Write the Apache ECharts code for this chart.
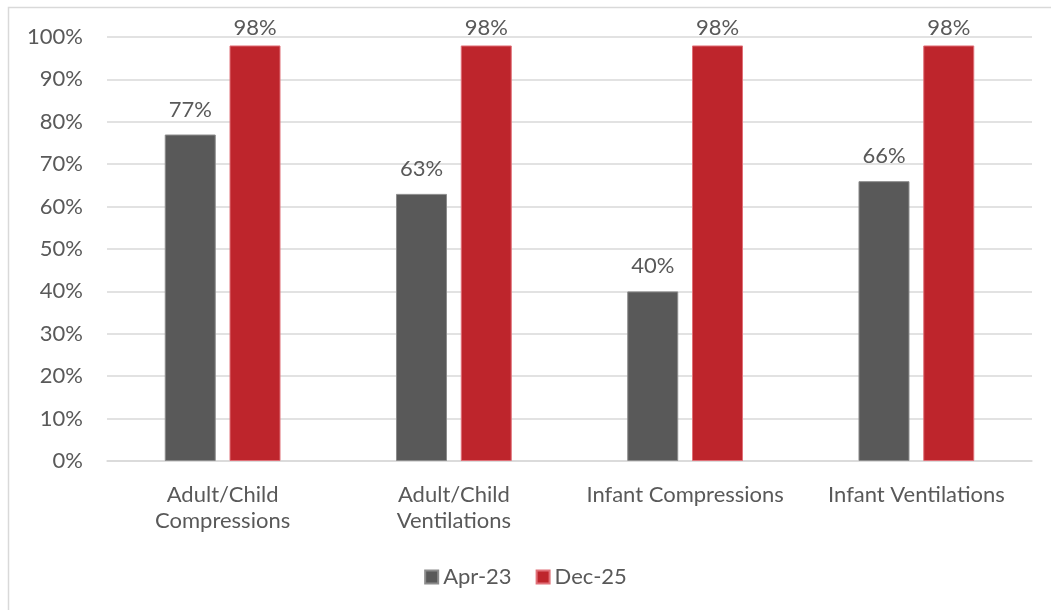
<!DOCTYPE html>
<html>
<head>
<meta charset="utf-8">
<script src="https://cdn.jsdelivr.net/npm/echarts@6/dist/echarts.min.js"></script>
<style>
html,body{margin:0;padding:0;background:#fff;}
#c{width:1051px;height:610px;}
</style>
</head>
<body>
<div id="c"></div>
<script>
const categories = ["Adult/Child\nCompressions", "Adult/Child\nVentilations", "Infant Compressions", "Infant Ventilations"];
const seriesNames = ["Apr-23", "Dec-25"];
const apr23 = [77, 63, 40, 66];
const dec25 = [98, 98, 98, 98];
const yTicks = [0, 10, 20, 30, 40, 50, 60, 70, 80, 90, 100];

const textColor = '#595959';
const font = 'Lato';
const fs = 22;
const chart = echarts.init(document.getElementById('c'), null, {renderer: 'canvas'});
const mkLabel = d => ({
  show: true, position: 'top', distance: d,
  formatter: p => p.value + '%',
  color: textColor, fontFamily: font, fontSize: fs
});
chart.setOption({
  animation: false,
  textStyle: {fontFamily: font},
  graphic: [{
    type: 'rect', silent: true,
    shape: {x: 8.5, y: 7.5, width: 1100, height: 700},
    style: {fill: 'none', stroke: '#D9D9D9', lineWidth: 1.5}
  }],
  grid: {left: 107, right: 19, top: 37, bottom: 149, containLabel: false},
  legend: {
    bottom: 17, left: 'center',
    itemWidth: 13, itemHeight: 13, itemGap: 24,
    icon: 'rect',
    textStyle: {color: textColor, fontFamily: font, fontSize: fs, padding: [0, 0, 0, 0]},
    data: seriesNames
  },
  xAxis: {
    type: 'category', data: categories,
    axisLine: {show: true, lineStyle: {color: '#D9D9D9', width: 1.5}},
    axisTick: {show: false},
    axisLabel: {color: textColor, fontFamily: font, fontSize: fs, margin: 21, lineHeight: 26, interval: 0}
  },
  yAxis: {
    type: 'value', min: 0, max: 100, interval: 10,
    axisLine: {show: false}, axisTick: {show: false},
    splitLine: {lineStyle: {color: '#D9D9D9', width: 1.5}},
    axisLabel: {color: textColor, fontFamily: font, fontSize: fs, margin: 24,
      formatter: v => yTicks.includes(v) ? v + '%' : ''}
  },
  series: [
    {name: seriesNames[0], type: 'bar', data: apr23, barWidth: 51, barGap: '27%',
     itemStyle: {color: '#595959', borderColor: '#8C8C8C', borderWidth: 1}, label: mkLabel(14)},
    {name: seriesNames[1], type: 'bar', data: dec25, barWidth: 51,
     itemStyle: {color: '#BE252C', borderColor: '#E07078', borderWidth: 1}, label: mkLabel(7)}
  ]
});
</script>
</body>
</html>
